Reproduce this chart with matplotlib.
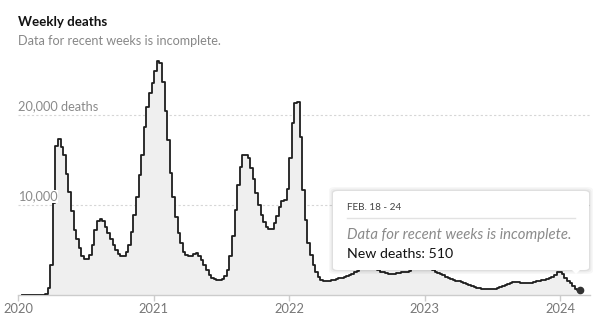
import matplotlib

matplotlib.use("Agg")

import matplotlib.pyplot as plt
from matplotlib.patches import FancyBboxPatch, Polygon
import pandas as pd

W, H = 600, 324

# weekly deaths, weeks ending on Saturday starting 2020-01-11
deaths_2020 = [0, 0, 0, 0, 0, 0, 0, 0, 0, 10, 60,
               800, 3300, 10200, 16500, 17300, 16400, 15600, 13400, 11400, 9300,
               7200, 6200, 5200, 4300, 4000, 4000, 4400, 5600, 7200, 8200,
               8400, 8200, 7500, 6900, 6200, 5500, 5000, 4600, 4300, 4300,
               4800, 5500, 7000, 8900, 10900, 13300, 15500, 18700, 20900, 22400]
deaths_2021 = [23500, 24900, 26000, 25800, 23700, 20400, 17200, 13600, 10900, 8700,
               6900, 5800, 4800, 4400, 4300, 4300, 4600, 4700, 4300, 3900,
               3300, 2800, 2200, 1900, 1800, 1700, 1700, 1800, 2100, 2800,
               4300, 6500, 9400, 12200, 14200, 15500, 15500, 15200, 14100, 12900,
               11300, 10000, 8900, 8100, 7600, 7300, 7300, 8000, 8800, 9800,
               10400, 10500]
deaths_2022 = [11800, 15200, 19100, 21300, 21400, 17600, 11700, 8300, 5800, 4400,
               3300, 2600, 2000, 1700, 1600, 1600, 1600, 1700, 1700, 1800,
               1900, 1900, 2000, 2100, 2200, 2300, 2500, 2700, 2900, 3100,
               3200, 3300, 3200, 3100, 3000, 2800, 2600, 2500, 2400, 2300,
               2300, 2300, 2400, 2400, 2500, 2600, 2600, 2700, 2900, 3200,
               3600, 3900]
deaths_2023 = [4000, 3800, 3400, 3000, 2800, 2600, 2400, 2300, 2200, 2000,
               1900, 1800, 1700, 1600, 1500, 1400, 1300, 1200, 1100, 1000,
               900, 820, 780, 720, 680, 650, 630, 650, 720, 820,
               920, 1050, 1150, 1250, 1350, 1400, 1450, 1400, 1350, 1300,
               1350, 1300, 1350, 1450, 1500, 1600, 1650, 1700, 1800, 1900,
               2000, 2200]
deaths_2024 = [2500, 2600, 2300, 1900, 1600, 1300, 1000, 700, 510]

year_ticks = ["2020", "2021", "2022", "2023", "2024"]
grid_values = [10000, 20000]
grid_labels = ["10,000", "20,000 deaths"]

tip_week = "FEB. 18 - 24"
tip_note = "Data for recent weeks is incomplete."
tip_value = f"New deaths: {deaths_2024[-1]:,}"

deaths = deaths_2020 + deaths_2021 + deaths_2022 + deaths_2023 + deaths_2024
week_end = pd.date_range("2020-01-11", periods=len(deaths), freq="7D")

plt.rcParams["font.family"] = ["Lato", "DejaVu Sans"]


def fx(px):
    return px / W


def fy(py):
    return 1 - py / H


fig = plt.figure(figsize=(W / 100, H / 100), dpi=100)
ax = fig.add_axes([fx(18), fy(295), 572 / W, 245 / H])

ax.fill_between(week_end, deaths, step="pre", color="#efefef", linewidth=0, zorder=1)
ax.step(week_end, deaths, where="pre", color="#1e1e1e", linewidth=1.3, zorder=3)
ax.plot(week_end[-1], deaths[-1], "o", color="#333333", markersize=4.5, zorder=4)

for value, label in zip(grid_values, grid_labels):
    ax.axhline(value, color="#d6d6d6", linewidth=0.8, linestyle=(0, (2, 2)), zorder=0)
    ax.annotate(label, xy=(0, value), xycoords=("axes fraction", "data"),
                xytext=(0, 3.3), textcoords="offset points", va="baseline", ha="left",
                fontsize=9.2, color="#8a8a8a", zorder=5,
                bbox=dict(boxstyle="square,pad=0.05", fc="white", ec="none"))

start = pd.Timestamp("2020-01-01")
ax.set_xlim(start, start + pd.Timedelta(days=1542))
ax.set_ylim(0, 27222)
ax.set_yticks([])
ax.set_xticks([pd.Timestamp(f"{y}-01-01") for y in year_ticks])
ax.set_xticklabels(year_ticks)
ax.tick_params(axis="x", length=4, width=1, color="#cccccc", labelcolor="#777777",
               labelsize=9.3, pad=1.5)
for side in ["top", "left", "right"]:
    ax.spines[side].set_visible(False)
ax.spines["bottom"].set_color("#cccccc")
ax.spines["bottom"].set_linewidth(1)
ax.patch.set_visible(False)

fig.text(fx(18), fy(21.5), "Weekly deaths", fontsize=9.6, fontweight="bold",
         color="#121212", va="center", ha="left")
fig.text(fx(18), fy(41), "Data for recent weeks is incomplete.", fontsize=9.1,
         color="#888888", va="center", ha="left")

# tooltip with soft shadow
bx0, by0, bx1, by1 = 333, 191, 589, 270
for grow, alpha in [(4, 0.03), (2.5, 0.04), (1.2, 0.06)]:
    fig.patches.append(FancyBboxPatch(
        (fx(bx0 - grow), fy(by1 + grow)), (bx1 - bx0 + 2 * grow) / W,
        (by1 - by0 + 2 * grow) / H, boxstyle="round,pad=0,rounding_size=0.01",
        transform=fig.transFigure, fc="black", ec="none", alpha=alpha, zorder=10))
fig.patches.append(FancyBboxPatch(
    (fx(bx0), fy(by1)), (bx1 - bx0) / W, (by1 - by0) / H,
    boxstyle="round,pad=0,rounding_size=0.008", transform=fig.transFigure,
    fc="white", ec="none", zorder=11))
fig.patches.append(Polygon([(fx(571), fy(269)), (fx(581), fy(269)), (fx(576), fy(274))],
                           closed=True, transform=fig.transFigure, fc="white",
                           ec="none", zorder=11))
fig.lines.append(plt.Line2D([fx(347), fx(575)], [fy(218), fy(218)],
                            transform=fig.transFigure, color="#e2e2e2",
                            linewidth=1, zorder=12))
fig.text(fx(347), fy(208), tip_week, fontsize=7.2, color="#444444",
         va="center", ha="left", zorder=13)
fig.text(fx(347), fy(235), tip_note, fontsize=10.7, style="italic",
         color="#8a8a8a", va="center", ha="left", zorder=13)
fig.text(fx(347), fy(254), tip_value, fontsize=10.2, color="#121212",
         va="center", ha="left", zorder=13)

fig.savefig("out.png", dpi=100)
